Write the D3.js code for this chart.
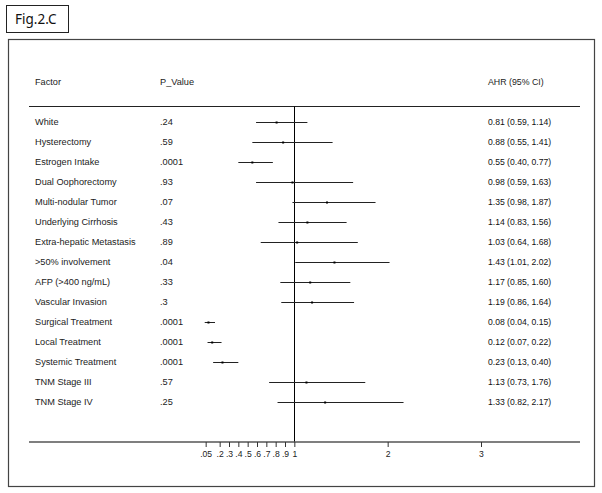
<!DOCTYPE html>
<html><head><meta charset="utf-8">
<script src="https://cdn.jsdelivr.net/npm/d3@7"></script>
<style>
html,body{margin:0;padding:0;background:#fff;}
svg{display:block;}
text{font-family:"Liberation Sans",Arial,sans-serif;}
</style></head>
<body>
<svg id="c" width="602" height="493"></svg>
<script>
const factors = ["White","Hysterectomy","Estrogen Intake","Dual Oophorectomy","Multi-nodular Tumor","Underlying Cirrhosis","Extra-hepatic Metastasis",">50% involvement","AFP (>400 ng/mL)","Vascular Invasion","Surgical Treatment","Local Treatment","Systemic Treatment","TNM Stage III","TNM Stage IV"];
const pValues = [".24",".59",".0001",".93",".07",".43",".89",".04",".33",".3",".0001",".0001",".0001",".57",".25"];
const ahr = [0.81,0.88,0.55,0.98,1.35,1.14,1.03,1.43,1.17,1.19,0.08,0.12,0.23,1.13,1.33];
const lower = [0.59,0.55,0.40,0.59,0.98,0.83,0.64,1.01,0.85,0.86,0.04,0.07,0.13,0.73,0.82];
const upper = [1.14,1.41,0.77,1.63,1.87,1.56,1.68,2.02,1.60,1.64,0.15,0.22,0.40,1.76,2.17];
const tickValues = [0.05,0.2,0.3,0.4,0.5,0.6,0.7,0.8,0.9,1,2,3];
const tickLabels = [".05",".2",".3",".4",".5",".6",".7",".8",".9","1","2","3"];
const headers = ["Factor","P_Value","AHR (95% CI)"];

const svg = d3.select("#c");
const fmt = d3.format(".2f");

// figure label box
svg.append("rect").attr("x",6.5).attr("y",5.5).attr("width",62).attr("height",27)
  .attr("fill","none").attr("stroke","#222").attr("stroke-width",1);
svg.append("text").attr("x",15).attr("y",23.5).attr("font-size",13.5)
  .style("font-family","'Noto Sans',sans-serif").attr("fill","#111").text("Fig.2.C");

// outer box
svg.append("rect").attr("x",8.5).attr("y",39.5).attr("width",586).attr("height",447)
  .attr("fill","none").attr("stroke","#444").attr("stroke-width",1.2);

const x = d3.scaleLinear().domain([0,3]).range([201,481]);
const y = d3.scaleLinear().domain([0,14]).range([121.7,401.7]);

const fsL = 9.2, fsR = 8.6;
// headers
const hx = [35,160,488];
const hfs = [fsL,fsL,8.8];
headers.forEach((h,i)=>{
  svg.append("text").attr("x",hx[i]).attr("y",85).attr("font-size",hfs[i]).attr("fill","#222").text(h);
});

// header rule
svg.append("line").attr("x1",29).attr("x2",580).attr("y1",106.5).attr("y2",106.5)
  .attr("stroke","#222").attr("stroke-width",1.2);

// reference line at 1
svg.append("line").attr("x1",Math.round(x(1))+0.5).attr("x2",Math.round(x(1))+0.5)
  .attr("y1",106.5).attr("y2",442).attr("stroke","#000").attr("stroke-width",1);

// rows
const rows = svg.append("g");
factors.forEach((f,i)=>{
  const yy = y(i);
  rows.append("text").attr("x",35).attr("y",yy+3.2).attr("font-size",fsL).attr("fill","#222").text(f);
  rows.append("text").attr("x",160).attr("y",yy+3.2).attr("font-size",fsL).attr("fill","#222").text(pValues[i]);
  rows.append("text").attr("x",488).attr("y",yy+3.2).attr("font-size",fsR).attr("fill","#111")
    .text(`${fmt(ahr[i])} (${fmt(lower[i])}, ${fmt(upper[i])})`);
  rows.append("line").attr("x1",x(lower[i])).attr("x2",x(upper[i]))
    .attr("y1",Math.round(yy)+0.5).attr("y2",Math.round(yy)+0.5)
    .attr("stroke","#222").attr("stroke-width",1);
  rows.append("rect").attr("x",x(ahr[i])-1).attr("y",Math.round(yy)-0.5)
    .attr("width",2).attr("height",2).attr("fill","#000");
});

// axis
svg.append("line").attr("x1",29).attr("x2",580).attr("y1",442).attr("y2",442)
  .attr("stroke","#555").attr("stroke-width",1.5);
const axis = d3.axisBottom(x).tickValues(tickValues)
  .tickFormat((d,i)=>tickLabels[i]).tickSize(5).tickPadding(4);
const ag = svg.append("g").attr("transform","translate(0,442)").call(axis);
ag.select(".domain").remove();
ag.selectAll(".tick line").attr("stroke","#333");
ag.selectAll(".tick text").attr("font-size",8.6).attr("fill","#222")
  .style("font-family","'Liberation Sans',Arial,sans-serif");
</script>
</body></html>
